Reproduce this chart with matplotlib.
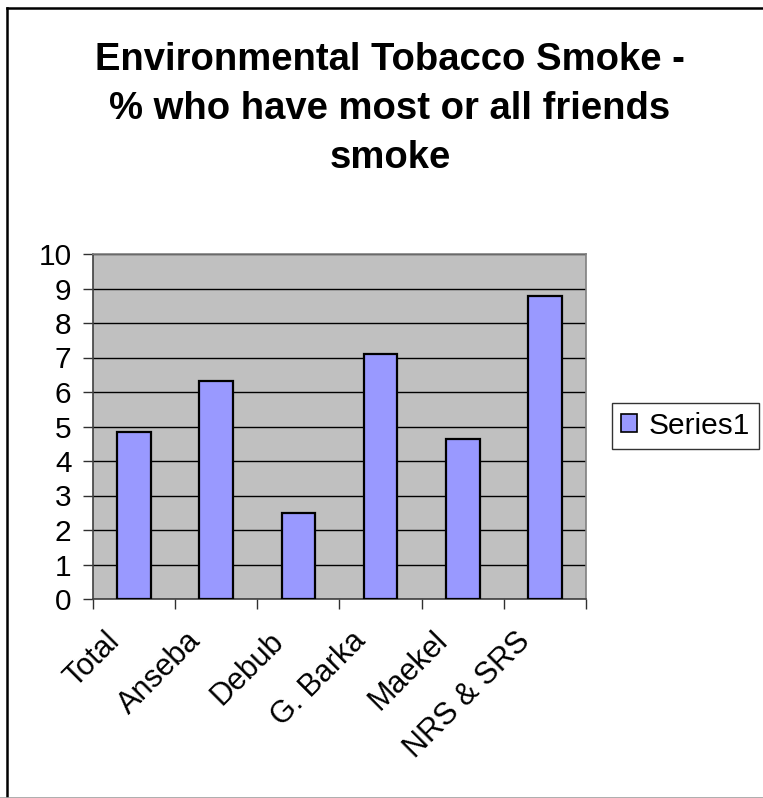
import matplotlib
matplotlib.use("Agg")
import matplotlib.pyplot as plt
from matplotlib.lines import Line2D
from matplotlib.patches import Patch
from matplotlib.transforms import ScaledTranslation

plt.rcParams["font.family"] = ["Liberation Sans", "DejaVu Sans"]

regions = ["Total", "Anseba", "Debub", "G. Barka", "Maekel", "NRS & SRS"]
series1 = [4.84, 6.31, 2.48, 7.11, 4.63, 8.79]
yticks = list(range(0, 11))
title = "Environmental Tobacco Smoke -\n% who have most or all friends\nsmoke"

W, H = 763, 798
fig = plt.figure(figsize=(W / 100, H / 100), dpi=100)
fig.patch.set_facecolor("white")

# chart frame (cut off on the right)
fx = lambda px: px / W
fy = lambda py: 1 - py / H
fig.add_artist(Line2D([fx(7), fx(7)], [fy(8), fy(797)], color="black", lw=1.8))
fig.add_artist(Line2D([fx(7), 1.0], [fy(8), fy(8)], color="black", lw=1.8))
fig.add_artist(Line2D([0, 1.0], [fy(797.5), fy(797.5)], color="#a0a0a0", lw=1.2))

ax = fig.add_axes([93 / W, 1 - 599 / H, (586 - 93) / W, (599 - 254) / H])
ax.set_facecolor("#c0c0c0")

x = list(range(len(regions)))
ax.bar(x, series1, width=0.41, color="#9999ff", edgecolor="black", linewidth=1.6,
       zorder=3, label="Series1")

ax.set_xlim(-0.5, len(regions) - 0.5)
ax.set_ylim(0, 10)
ax.set_yticks(yticks)
ax.yaxis.grid(True, color="black", linewidth=1.0, zorder=1)
ax.set_axisbelow(True)

# category boundaries carry the tick marks
ax.set_xticks([i - 0.5 for i in range(len(regions) + 1)])
ax.set_xticklabels([])
ax.tick_params(axis="x", length=7, width=1.0, color="#303030")
ax.tick_params(axis="y", length=7.5, width=1.0, color="#303030", labelsize=21.5, pad=8)

# slanted category names, top-right corner just left of each centre
offset = ScaledTranslation(-0.30, -0.27, fig.dpi_scale_trans)
for i, name in enumerate(regions):
    ax.text(i, 0, name, transform=ax.get_xaxis_transform() + offset,
            rotation=45, rotation_mode="anchor", ha="right", va="top",
            fontsize=22)

for side in ["top", "right"]:
    ax.spines[side].set_color("#808080")
    ax.spines[side].set_linewidth(1.2)
for side in ["left", "bottom"]:
    ax.spines[side].set_color("#404040")
    ax.spines[side].set_linewidth(1.2)

fig.text(390 / W, fy(109), title, ha="center", va="center", fontsize=27.5,
         fontweight="bold", linespacing=1.45)

handle = Patch(facecolor="#9999ff", edgecolor="black", linewidth=1.2)
leg = fig.legend([handle], ["Series1"], loc="center left",
                 bbox_to_anchor=(612 / W, fy(426)), fontsize=21.5, frameon=True,
                 fancybox=False, edgecolor="black", handlelength=0.55,
                 handleheight=0.55, handletextpad=0.38, borderpad=0.3,
                 borderaxespad=0)
leg.get_frame().set_linewidth(1.0)

fig.savefig("out.png", dpi=100, facecolor="white")
